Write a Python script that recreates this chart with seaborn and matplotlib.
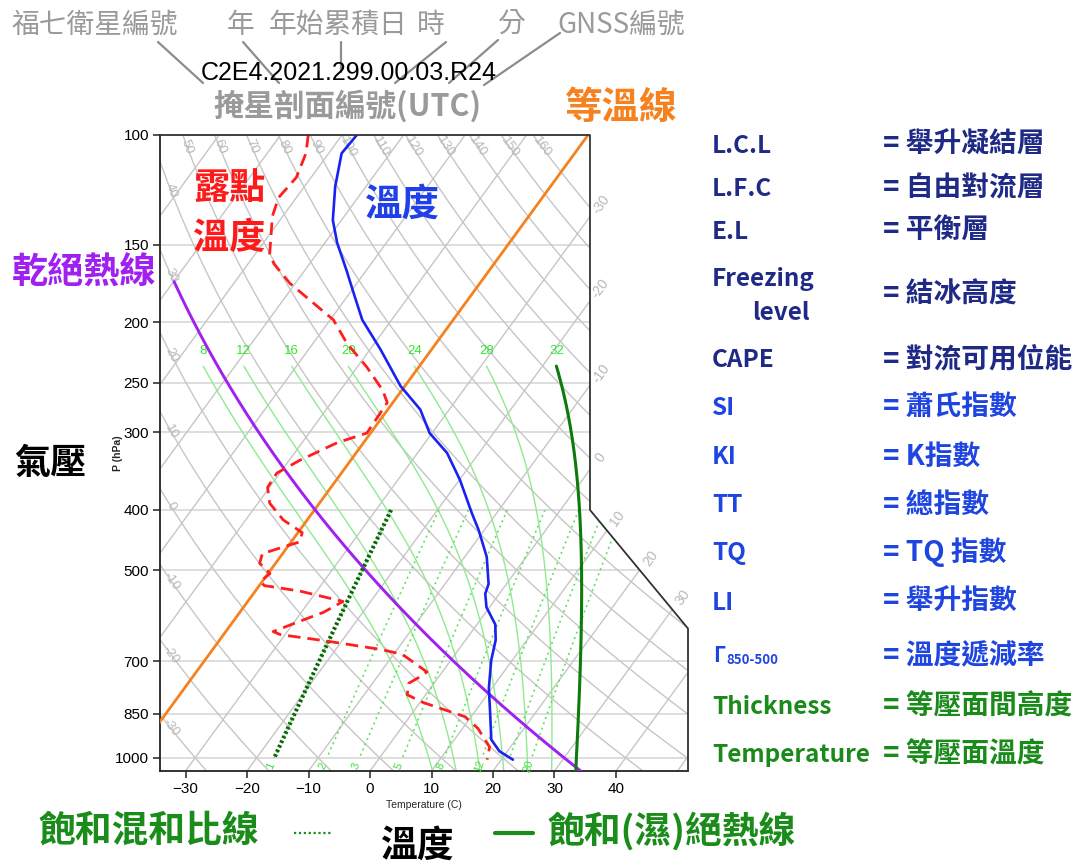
import numpy as np
import pandas as pd
import matplotlib
matplotlib.use("Agg")
import matplotlib.pyplot as plt
import seaborn as sns
from matplotlib.patches import Polygon
from matplotlib.lines import Line2D
from matplotlib.ticker import NullLocator

# ---------------- data ----------------
temp_p = [100, 107, 121, 137, 149, 165, 182, 198, 221, 253, 276, 301, 324, 358, 405, 431,
          476, 526, 545, 573, 611, 647, 698, 773, 851, 935, 976, 1007]
temp_c = [-77.6, -77.9, -75.0, -71.4, -68.0, -63.2, -58.7, -54.8, -48.3, -40.7, -34.7, -30.4,
          -25.2, -19.9, -14.0, -10.9, -6.4, -2.9, -2.3, -0.5, 3.0, 4.9, 6.6, 9.5, 12.8, 16.0,
          18.7, 21.9]

dew_p = [100, 107, 117, 126, 135, 155, 161, 173, 184, 198, 216, 236, 257, 269, 301, 312, 333,
         349, 368, 390, 415, 435, 450, 455, 470, 487, 506, 521, 529, 540, 561, 584, 606, 627,
         634, 649, 670, 682, 728, 742, 759, 792, 815, 859, 897, 961, 1007]
dew_c = [-85.5, -83.7, -82.4, -82.9, -81.7, -77.7, -75.8, -70.9, -65.7, -59.5, -54.5, -48.4,
         -43.1, -40.9, -40.6, -44.3, -48.3, -50.5, -50.3, -48.1, -43.9, -39.3, -38.6, -39.8,
         -43.3, -42.6, -39.7, -40.3, -39.2, -32.7, -24.5, -26.4, -29.5, -32.3, -30.8, -22.7,
         -12.6, -8.6, -2.5, -3.1, -4.1, -3.0, 0.5, 9.0, 12.5, 16.6, 17.7]

p_ticks = [100, 150, 200, 250, 300, 400, 500, 700, 850, 1000]
t_ticks = [-30, -20, -10, 0, 10, 20, 30, 40]
isotherm_vals = list(range(-100, 60, 10))
isotherm_label_vals = [-30, -20, -10, 0, 10, 20, 30]
theta_vals = list(range(-30, 170, 10))
theta_w_vals = [8, 12, 16, 20, 24, 28, 32]
mixr_vals = [1, 2, 3, 5, 8, 12, 16, 20]
mixr_label_vals = [1, 2, 3, 5, 8, 12, 20]
highlight_isotherm = -40
highlight_theta = 30
highlight_theta_top = 172
highlight_theta_w = 32
highlight_mixr = 1

# ---------------- geometry ----------------
W, H = 1092, 864
K = 32.09
P_BOT, P_TOP = 1050.0, 100.0
X_LEFT, X_RTOP, X_RBOT = -34.15, 35.77, 51.71
P_KNEE1, P_KNEE2 = 400.0, 620.0


def sx(T, p):
    return np.asarray(T, dtype=float) + K * np.log(P_BOT / np.asarray(p, dtype=float))


def bound_x(p):
    p = np.asarray(p, dtype=float)
    f = (np.log(p) - np.log(P_KNEE1)) / (np.log(P_KNEE2) - np.log(P_KNEE1))
    f = np.clip(f, 0, 1)
    return X_RTOP + f * (X_RBOT - X_RTOP)


Rd, Cp, Lv, EPS = 287.04, 1005.7, 2.501e6, 0.622


def es_hpa(tc):
    return 6.112 * np.exp(17.67 * tc / (tc + 243.5))


def dTdp(T, p):
    es = es_hpa(T - 273.15)
    rs = EPS * es / (p - es)
    return (Rd * T + Lv * rs) / (Cp + Lv * Lv * rs * EPS / (Rd * T * T)) / p


def integrate(T0, grid):
    T = T0
    out = [T]
    for i in range(len(grid) - 1):
        p0, p1 = grid[i], grid[i + 1]
        h = p1 - p0
        k1 = dTdp(T, p0)
        k2 = dTdp(T + h * k1 / 2, p0 + h / 2)
        k3 = dTdp(T + h * k2 / 2, p0 + h / 2)
        k4 = dTdp(T + h * k3, p1)
        T = T + h * (k1 + 2 * k2 + 2 * k3 + k4) / 6
        out.append(T)
    return np.array(out)


def moist(thw, p_top=235.0):
    up = np.linspace(1000, p_top, 300)
    dn = np.linspace(1000, P_BOT, 20)
    Tu = integrate(thw + 273.15, up)
    Td = integrate(thw + 273.15, dn)
    p = np.concatenate([dn[::-1], up[1:]])
    T = np.concatenate([Td[::-1], Tu[1:]]) - 273.15
    return p, T


def mixr_T(w, p):
    p = np.asarray(p, dtype=float)
    e = w * p / (622.0 + w)
    l = np.log(e / 6.112)
    return 243.5 * l / (17.67 - l)


def dry_T(theta_c, p):
    p = np.asarray(p, dtype=float)
    return (theta_c + 273.15) * (p / 1000.0) ** 0.286 - 273.15


# ---------------- figure ----------------
sns.set_theme(style="white")
plt.rcParams['font.family'] = ['Liberation Sans', 'DejaVu Sans']
plt.rcParams['axes.unicode_minus'] = True
CJK = ['Noto Sans CJK TC', 'DejaVu Sans']

fig = plt.figure(figsize=(W / 100, H / 100), dpi=100)
fig.patch.set_facecolor('white')
ax = fig.add_axes([160 / W, 1 - 771 / H, 528 / W, (771 - 135) / H])
ax.set_facecolor('white')
ax.set_yscale('log')
ax.set_ylim(P_BOT, P_TOP)
ax.set_xlim(X_LEFT, X_RBOT)

house = Polygon([(X_LEFT, P_TOP), (X_RTOP, P_TOP), (X_RTOP, P_KNEE1), (X_RBOT, P_KNEE2),
                 (X_RBOT, P_BOT), (X_LEFT, P_BOT)], closed=True, transform=ax.transData,
                facecolor='none', edgecolor='none')
ax.add_patch(house)

GRID = '#c6c6c6'
pf = np.geomspace(P_TOP, P_BOT, 400)

for p in p_ticks:
    ln, = ax.plot([X_LEFT, X_RBOT], [p, p], color='#d4d4d4', lw=1.1, zorder=1)
    ln.set_clip_path(house)

for T in isotherm_vals:
    ln, = ax.plot(sx([T, T], [P_TOP, P_BOT]), [P_TOP, P_BOT], color=GRID, lw=1.0, zorder=1)
    ln.set_clip_path(house)

for th in theta_vals:
    ln, = ax.plot(sx(dry_T(th, pf), pf), pf, color=GRID, lw=1.0, zorder=1)
    ln.set_clip_path(house)

moist_curves = {}
for thw in theta_w_vals:
    p, T = moist(thw)
    moist_curves[thw] = (p, T)
    ln, = ax.plot(sx(T, p), p, color='#8fea8f', lw=1.0, zorder=2)
    ln.set_clip_path(house)

pm = np.geomspace(400, 1000, 100)
for w in mixr_vals:
    ln, = ax.plot(sx(mixr_T(w, pm), pm), pm, color='#5fe35f', lw=1.2,
                  linestyle=(0, (1.2, 2.2)), zorder=2)
    ln.set_clip_path(house)

fig.canvas.draw()
to_disp = ax.transData


def disp_angle(xs, ps):
    a = to_disp.transform([[xs[0], ps[0]], [xs[1], ps[1]]])
    return np.degrees(np.arctan2(a[1, 1] - a[0, 1], a[1, 0] - a[0, 0]))


def norm_ang(a):
    while a > 90:
        a -= 180
    while a < -90:
        a += 180
    return a


for th in theta_vals:
    if th > 160:
        continue
    p_lab = 104.5
    xl = float(sx(dry_T(th, p_lab), p_lab))
    if xl < X_LEFT + 1.6:
        xs = sx(dry_T(th, pf), pf)
        target = X_LEFT + 1.7
        idx = np.where(xs >= target)[0]
        if len(idx) == 0:
            continue
        i = idx[0]
        p_lab = pf[i]
        xl = xs[i]
    pp = [p_lab * 0.97, p_lab * 1.03]
    ang = norm_ang(disp_angle(sx(dry_T(th, pp), pp), pp))
    ax.text(xl, p_lab, f"{th}", color='#b8b8b8', fontsize=9.5, rotation=ang,
            rotation_mode='anchor', ha='center', va='center', zorder=3)

pfine = np.geomspace(P_TOP, P_BOT, 2000)
for T in isotherm_label_vals:
    d = sx(T, pfine) - bound_x(pfine)
    idx = np.where(d <= 0)[0]
    if len(idx) == 0:
        continue
    pc = pfine[idx[0]]
    p_lab = pc * np.exp(-0.045)
    xl = float(sx(T, p_lab)) + 0.3
    pp = [p_lab * 1.05, p_lab * 0.95]
    ang = norm_ang(disp_angle(sx([T, T], pp), pp))
    ax.text(xl, p_lab, f"{T}", color='#b8b8b8', fontsize=10, rotation=ang,
            rotation_mode='anchor', ha='center', va='center', clip_on=False, zorder=3)

for thw in theta_w_vals:
    p, T = moist_curves[thw]
    ax.text(float(sx(T[-1], p[-1])), 222.0, f"{thw}", color='#2ee82e', fontsize=9.5,
            ha='center', va='center', zorder=3)

for w in mixr_label_vals:
    pl = 1030.0
    xl = float(sx(mixr_T(w, pl), pl))
    pp = [1045.0, 1000.0]
    ang = norm_ang(disp_angle(sx(mixr_T(w, pp), pp), pp))
    ax.text(xl, pl, f"{w}", color='#3ee03e', fontsize=8, rotation=ang,
            rotation_mode='anchor', ha='center', va='center', zorder=3)

ln, = ax.plot(sx([highlight_isotherm] * 2, [P_TOP, P_BOT]), [P_TOP, P_BOT], color='#f5821f',
              lw=2.0, zorder=4)
ln.set_clip_path(house)
pth = np.geomspace(highlight_theta_top, P_BOT, 300)
ln, = ax.plot(sx(dry_T(highlight_theta, pth), pth), pth, color='#a020f0', lw=2.1, zorder=4)
ln.set_clip_path(house)
p, T = moist_curves[highlight_theta_w]
ln, = ax.plot(sx(T, p), p, color='#0c7a0c', lw=2.2, zorder=4)
ln.set_clip_path(house)
ln, = ax.plot(sx(mixr_T(highlight_mixr, pm), pm), pm, color='#0b640b', lw=3.0,
              linestyle=(0, (0.6, 0.6)), zorder=4)
ln.set_clip_path(house)

df_t = pd.DataFrame({'x': sx(temp_c, temp_p), 'p': temp_p})
df_d = pd.DataFrame({'x': sx(dew_c, dew_p), 'p': dew_p})
sns.lineplot(data=df_t, x='x', y='p', sort=False, estimator=None, color='#1a22f0',
             lw=1.9, ax=ax, zorder=6)
sns.lineplot(data=df_d, x='x', y='p', sort=False, estimator=None, color='#ff1e1e',
             lw=2.0, ax=ax, zorder=5, linestyle=(0, (4.5, 2.5)))

ax.set_ylim(P_BOT, P_TOP)
ax.set_xlim(X_LEFT, X_RBOT)

for s in ['top', 'right']:
    ax.spines[s].set_visible(False)
for s in ['left', 'bottom']:
    ax.spines[s].set_color('#222222')
    ax.spines[s].set_linewidth(1.3)
ax.plot([X_LEFT, X_RTOP, X_RTOP, X_RBOT, X_RBOT], [P_TOP, P_TOP, P_KNEE1, P_KNEE2, P_BOT],
        color='#333333', lw=1.3, clip_on=False, zorder=7)

ax.set_yticks(p_ticks)
ax.set_yticklabels([str(v) for v in p_ticks])
ax.yaxis.set_minor_locator(NullLocator())
ax.set_xticks(t_ticks)
ax.set_xticklabels([f"{v}".replace('-', '\u2212') for v in t_ticks])
ax.tick_params(axis='both', which='major', direction='out', length=5, width=1.1,
               labelsize=11, color='#222222', labelcolor='black', left=True, bottom=True,
               pad=3)
ax.set_ylabel('P (hPa)', fontsize=7.5, fontweight='bold')
ax.yaxis.set_label_coords(-0.07, 0.5)
ax.set_xlabel('Temperature (C)', fontsize=7.5, labelpad=3)


def ft(x, y, s, **kw):
    kw.setdefault('ha', 'center')
    kw.setdefault('va', 'center')
    fig.text(x / W, 1 - y / H, s, **kw)


def fl(xs, ys, **kw):
    fig.add_artist(Line2D([x / W for x in xs], [1 - y / H for y in ys],
                          transform=fig.transFigure, **kw))


GRAYT = '#9a9a9a'
for s, x in [("福七衛星編號", 95), ("年", 241), ("年始累積日", 338), ("時", 431),
             ("分", 511), ("GNSS編號", 621)]:
    ft(x, 25, s, fontsize=20, color=GRAYT, family=CJK)
for xs, ys in [([158, 203], [42, 83]), ([243, 279], [42, 83]), ([341, 341], [42, 72]),
               ([446, 395], [42, 83]), ([498, 449], [40, 83]), ([560, 484], [33, 85])]:
    fl(xs, ys, color='#8c8c8c', lw=1.6)
ft(349, 73, "C2E4.2021.299.00.03.R24", fontsize=18, color='black',
   family=['Liberation Sans', 'DejaVu Sans'])
ft(347, 106, "掩星剖面編號(UTC)", fontsize=22, color=GRAYT, family=CJK, fontweight='bold')
ft(621, 107, "等溫線", fontsize=27, color='#f5821f', family=CJK, fontweight='bold')
ft(229, 189, "露點", fontsize=26, color='#ff1a1a', family=CJK, fontweight='bold')
ft(229, 239, "溫度", fontsize=26, color='#ff1a1a', family=CJK, fontweight='bold')
ft(402, 204, "溫度", fontsize=27, color='#1f3fe8', family=CJK, fontweight='bold')
ft(84, 273, "乾絕熱線", fontsize=26, color='#a020f0', family=CJK, fontweight='bold')
ft(50, 463, "氣壓", fontsize=26, color='black', family=CJK, fontweight='bold')

ft(149, 831, "飽和混和比線", fontsize=26.5, color='#1a8c1a', family=CJK, fontweight='bold')
fl([294, 332], [833, 833], color='#1a8c1a', lw=1.6, linestyle=(0, (1, 1.2)))
ft(418, 846, "溫度", fontsize=26.5, color='black', family=CJK, fontweight='bold')
fl([495, 533], [833, 833], color='#1a8c1a', lw=3.0)
ft(672, 831, "飽和(濕)絕熱線", fontsize=26.5, color='#1a8c1a', family=CJK, fontweight='bold')

NAVY, BLUE, GREEN = '#1f2a86', '#1f45e0', '#1a8a1a'
LAT = CJK
LSZ = 17.5
RSZ = 20
rows = [("L.C.L", 146, "= 舉升凝結層", 145, NAVY),
        ("L.F.C", 189, "= 自由對流層", 188, NAVY),
        ("E.L", 232, "= 平衡層", 230, NAVY),
        ("CAPE", 360, "= 對流可用位能", 359, NAVY),
        ("SI", 408, "= 蕭氏指數", 407, BLUE),
        ("KI", 457, "= K指數", 457, BLUE),
        ("TT", 505, "= 總指數", 505, BLUE),
        ("TQ", 553, "= TQ 指數", 552, BLUE),
        ("LI", 603, "= 舉升指數", 602, BLUE),
        ("Thickness", 707, "= 等壓面間高度", 707, GREEN),
        ("Temperature", 755, "= 等壓面溫度", 755, GREEN)]
for left, yl, right, yr, c in rows:
    ft(712, yl, left, fontsize=LSZ, color=c, family=LAT, fontweight='bold', ha='left')
    ft(883, yr, right, fontsize=RSZ, color=c, family=CJK, fontweight='bold', ha='left')
ft(712, 279, "Freezing", fontsize=LSZ, color=NAVY, family=LAT, fontweight='bold', ha='left')
ft(752, 313, "level", fontsize=LSZ, color=NAVY, family=LAT, fontweight='bold', ha='left')
ft(883, 295, "= 結冰高度", fontsize=RSZ, color=NAVY, family=CJK, fontweight='bold', ha='left')
ft(713, 656, "Γ", fontsize=15, color=BLUE, family=LAT, fontweight='bold', ha='left')
ft(726, 660, "850-500", fontsize=9.5, color=BLUE, family=LAT, fontweight='bold', ha='left')
ft(883, 656, "= 溫度遞減率", fontsize=RSZ, color=BLUE, family=CJK, fontweight='bold', ha='left')

fig.savefig('out.png', dpi=100, facecolor='white')
